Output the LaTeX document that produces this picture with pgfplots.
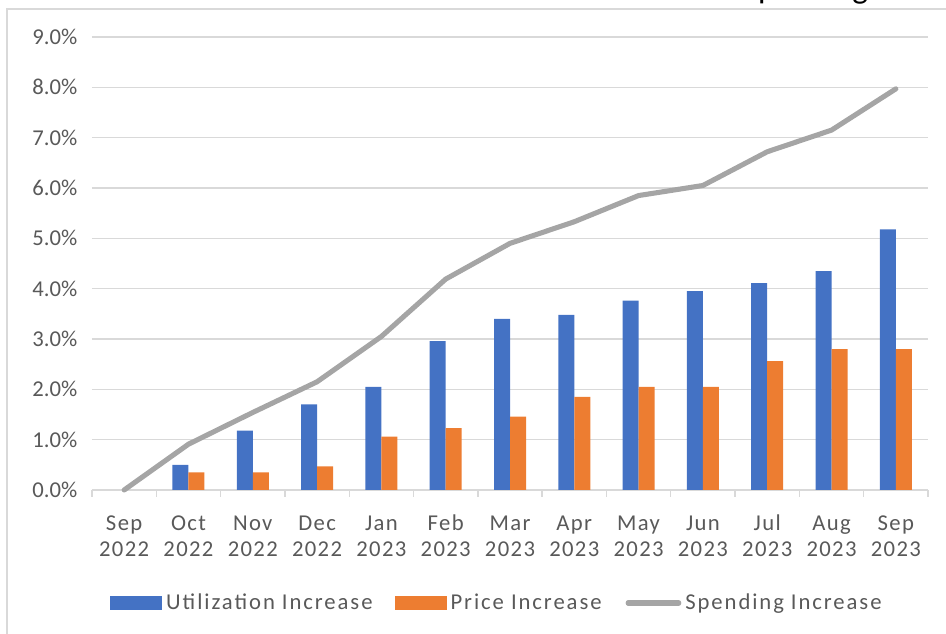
\documentclass[border=0pt]{standalone}
\usepackage{pgfplots}
\pgfplotsset{compat=1.18}
\usepackage{fontspec}
\setmainfont{Carlito}
\definecolor{ublue}{HTML}{4472C4}
\definecolor{uorange}{HTML}{ED7D31}
\definecolor{ugray}{HTML}{A5A5A5}
\definecolor{gridc}{HTML}{D9D9D9}
\definecolor{txt}{HTML}{595959}
\begin{document}
\begin{tikzpicture}
\useasboundingbox (-69pt,-108pt) rectangle (640.5pt,367.5pt);
\clip (-69pt,-108pt) rectangle (640.5pt,367.5pt);
\node[anchor=base west, inner sep=0pt, font=\fontsize{25}{30}\selectfont] at (487.9pt,368.6pt) {Spending};
\draw[gridc, line width=1pt] (-63.75pt,-130pt) -- (-63.75pt,360.75pt) -- (660pt,360.75pt);
\begin{axis}[
  at={(0pt,0pt)}, anchor=south west,
  scale only axis, width=627pt, height=339.75pt,
  xmin=-0.5, xmax=12.5, ymin=0, ymax=9,
  axis line style={draw=none},
  ymajorgrids, grid style={gridc, line width=1.1pt},
  ytick={0,...,9},
  yticklabels={0.0\%,1.0\%,2.0\%,3.0\%,4.0\%,5.0\%,6.0\%,7.0\%,8.0\%,9.0\%},
  xtick={0,...,12},
  xticklabels={\strut Sep\\2022,\strut Oct\\2022,\strut Nov\\2022,\strut Dec\\2022,\strut Jan\\2023,\strut Feb\\2023,\strut Mar\\2023,\strut Apr\\2023,\strut May\\2023,\strut Jun\\2023,\strut Jul\\2023,\strut Aug\\2023,\strut Sep\\2023},
  minor xtick={-0.5,0.5,...,12.5},
  xtick pos=left, ytick pos=left, tick align=outside,
  major tick length=0pt, minor tick length=5.25pt,
  minor tick style={gridc, line width=1pt},
  major tick style={draw=none},
  tick label style={font=\fontsize{17}{19.5}\selectfont, text=txt},
  yticklabel style={inner sep=0pt, xshift=-10.8pt},
  xticklabel style={align=center, inner sep=0pt, anchor=north, yshift=-16.4pt, font=\fontsize{17}{19.5}\selectfont\addfontfeatures{LetterSpace=6}},
  clip=false,
  legend columns=3,
  legend style={at={(axis description cs:0.0215,-0.2494)}, anchor=west, draw=none, fill=none, inner sep=0pt,
    font=\fontsize{17}{19.5}\selectfont\addfontfeatures{LetterSpace=8.5}, text=txt,
    nodes={inner sep=0pt},
    /tikz/every odd column/.append style={column sep=3pt},
    /tikz/every even column/.append style={column sep=16.5pt}},
]
\addplot[ybar, bar width=12pt, bar shift=-6pt, fill=ublue, draw=none,
  legend image code/.code={\fill[ublue] (0pt,-5.25pt) rectangle (39pt,5.25pt);}]
  coordinates {(1,0.50) (2,1.18) (3,1.70) (4,2.05) (5,2.96) (6,3.40) (7,3.48) (8,3.76) (9,3.95) (10,4.11) (11,4.35) (12,5.18)};
\addlegendentry{Utilization Increase}
\addplot[ybar, bar width=12pt, bar shift=6pt, fill=uorange, draw=none,
  legend image code/.code={\fill[uorange] (0pt,-5.25pt) rectangle (39pt,5.25pt);}]
  coordinates {(1,0.35) (2,0.35) (3,0.47) (4,1.06) (5,1.23) (6,1.46) (7,1.85) (8,2.05) (9,2.05) (10,2.56) (11,2.80) (12,2.80)};
\addlegendentry{Price Increase}
\addplot[ugray, line width=3.8pt, line cap=round, line join=round, mark=none,
  legend image code/.code={\path (0pt,0pt); \draw[ugray,line width=3.8pt,line cap=round] (1.5pt,0pt) -- (39.5pt,0pt);}]
  coordinates {(0,0) (1,0.91) (2,1.54) (3,2.15) (4,3.05) (5,4.19) (6,4.90) (7,5.33) (8,5.85) (9,6.05) (10,6.72) (11,7.15) (12,7.97)};
\addlegendentry{Spending Increase}
\end{axis}
\end{tikzpicture}
\end{document}
